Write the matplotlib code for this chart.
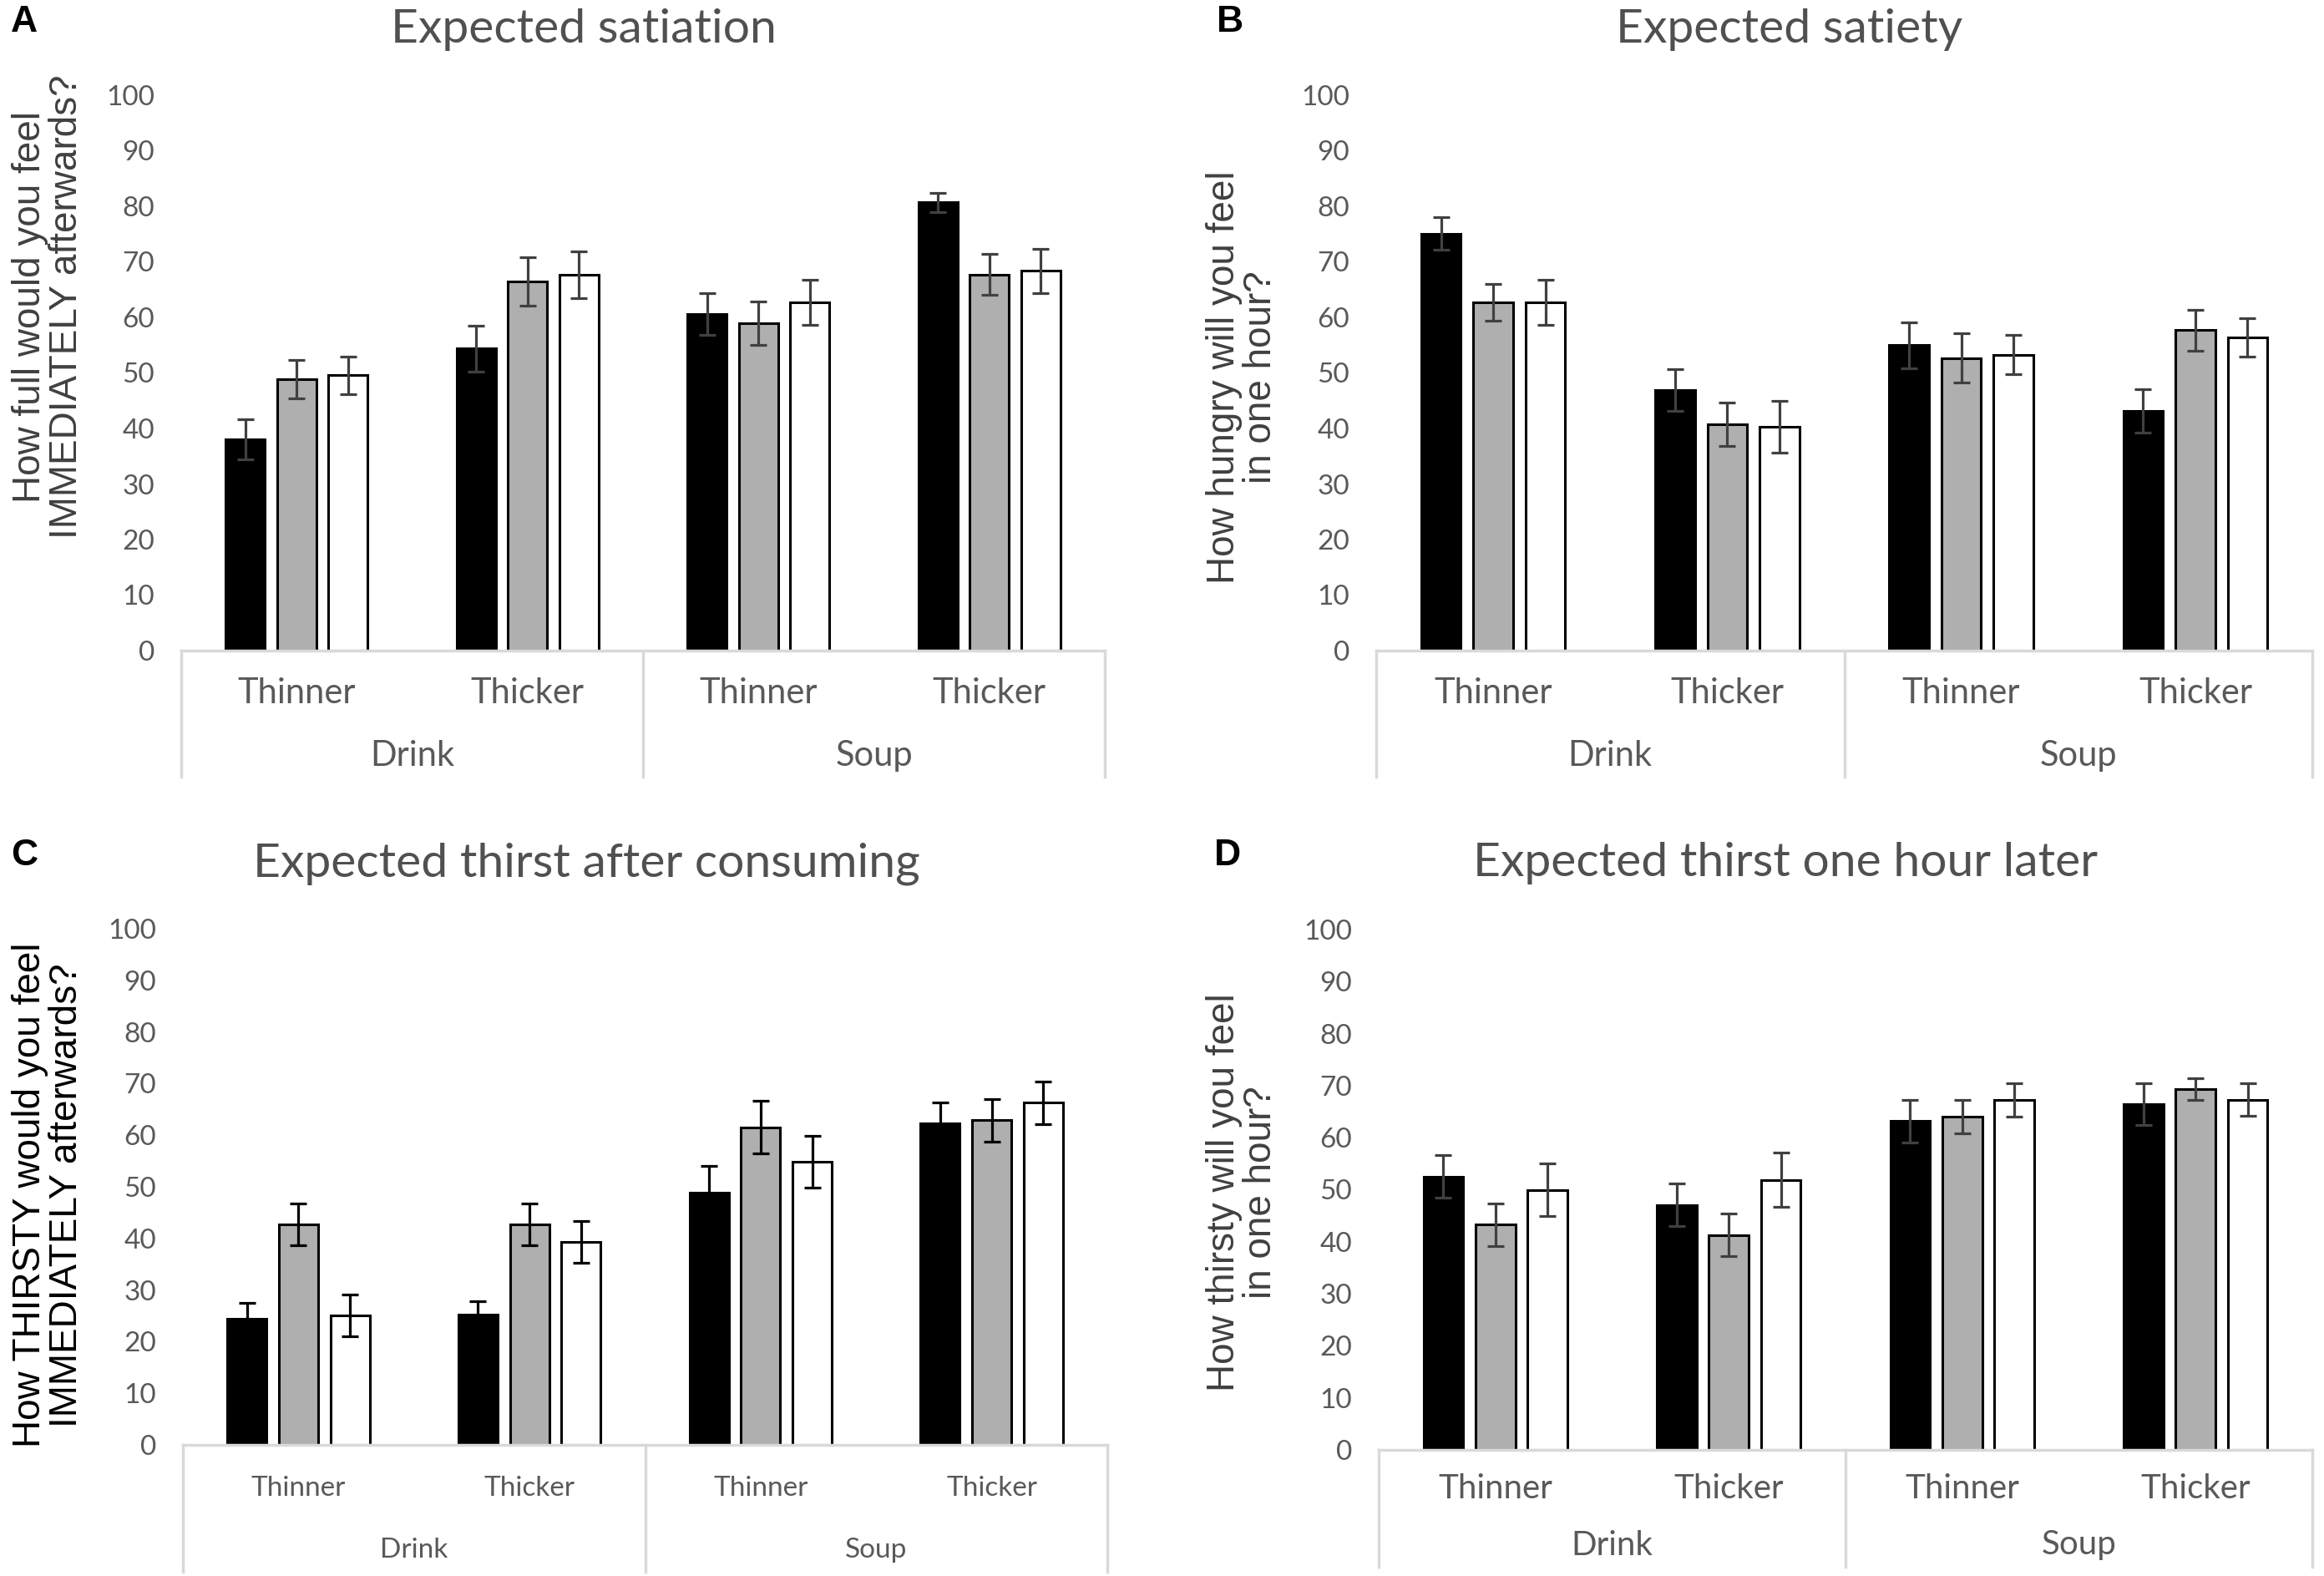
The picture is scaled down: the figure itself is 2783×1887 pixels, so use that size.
import matplotlib
matplotlib.use("Agg")
import matplotlib.pyplot as plt
import matplotlib.transforms as mtransforms
import numpy as np

# ---------------- data ----------------
categories = ["Thinner", "Thicker", "Thinner", "Thicker"]
groups = ["Drink", "Soup"]

satiation_black = [38.1, 54.4, 60.6, 80.7]
satiation_gray = [48.9, 66.5, 58.9, 67.7]
satiation_white = [49.6, 67.7, 62.7, 68.4]
satiation_black_err = [3.6, 4.1, 3.7, 1.7]
satiation_gray_err = [3.5, 4.4, 3.9, 3.7]
satiation_white_err = [3.4, 4.2, 4.1, 4.0]

satiety_black = [75.1, 46.9, 55.0, 43.2]
satiety_gray = [62.7, 40.8, 52.7, 57.7]
satiety_white = [62.7, 40.3, 53.3, 56.4]
satiety_black_err = [2.9, 3.8, 4.1, 3.9]
satiety_gray_err = [3.3, 3.9, 4.5, 3.7]
satiety_white_err = [4.0, 4.6, 3.5, 3.5]

thirst_now_black = [24.5, 25.2, 48.8, 62.3]
thirst_now_gray = [42.7, 42.7, 61.5, 62.9]
thirst_now_white = [25.1, 39.3, 54.8, 66.3]
thirst_now_black_err = [3.0, 2.6, 5.2, 4.1]
thirst_now_gray_err = [4.0, 4.1, 5.1, 4.1]
thirst_now_white_err = [4.1, 4.1, 5.0, 4.1]

thirst_later_black = [52.5, 47.1, 63.2, 66.5]
thirst_later_gray = [43.3, 41.3, 64.1, 69.4]
thirst_later_white = [50.0, 51.9, 67.3, 67.3]
thirst_later_black_err = [4.1, 4.1, 4.1, 4.0]
thirst_later_gray_err = [4.1, 4.1, 3.2, 2.1]
thirst_later_white_err = [5.0, 5.2, 3.2, 3.1]

titles = ["Expected satiation", "Expected satiety",
          "Expected thirst after consuming", "Expected thirst one hour later"]
ylabels = ["How full would you feel\nIMMEDIATELY afterwards?",
           "How hungry will you feel\nin one hour?",
           "How THIRSTY would you feel\nIMMEDIATELY afterwards?",
           "How thirsty will you feel\nin one hour?"]
panel_letters = ["A", "B", "C", "D"]
yticks = [0, 10, 20, 30, 40, 50, 60, 70, 80, 90, 100]

# ---------------- layout (pixels) ----------------
W, H = 2783, 1887
DPI = 100
fig = plt.figure(figsize=(W / DPI, H / DPI), dpi=DPI)

TXT = "#595959"
BOXC = "#d9d9d9"
GRAY = "#afafaf"

panels = [
    dict(rect=(217, 779, 1323, 114), black=satiation_black, gray=satiation_gray, white=satiation_white,
         be=satiation_black_err, ge=satiation_gray_err, we=satiation_white_err,
         cat_y=830, grp_y=905, box_bot=930, cat_fs=30, ecol="#404040",
         title_xy=(699, 51), ylab_xy=(58, 367), ylab_col="#404040", letter_xy=(13, 6)),
    dict(rect=(1648, 779, 2769, 114), black=satiety_black, gray=satiety_gray, white=satiety_white,
         be=satiety_black_err, ge=satiety_gray_err, we=satiety_white_err,
         cat_y=830, grp_y=905, box_bot=930, cat_fs=30, ecol="#404040",
         title_xy=(2143, 51), ylab_xy=(1488, 452), ylab_col="#404040", letter_xy=(1457, 6)),
    dict(rect=(219, 1730, 1326, 1112), black=thirst_now_black, gray=thirst_now_gray, white=thirst_now_white,
         be=thirst_now_black_err, ge=thirst_now_gray_err, we=thirst_now_white_err,
         cat_y=1782, grp_y=1856, box_bot=1882, cat_fs=24, ecol="#000000",
         title_xy=(702, 1049), ylab_xy=(58, 1431), ylab_col="#000000", letter_xy=(13, 1004)),
    dict(rect=(1651, 1736, 2769, 1113), black=thirst_later_black, gray=thirst_later_gray, white=thirst_later_white,
         be=thirst_later_black_err, ge=thirst_later_gray_err, we=thirst_later_white_err,
         cat_y=1782, grp_y=1850, box_bot=1876, cat_fs=29, ecol="#404040",
         title_xy=(2138, 1049), ylab_xy=(1488, 1428), ylab_col="#404040", letter_xy=(1454, 1004)),
]

x = np.arange(len(categories))
offset = 0.223
bw = 0.17

for i, p in enumerate(panels):
    left, y0, right, y100 = p["rect"]
    ax = fig.add_axes([left / W, (H - y0) / H, (right - left) / W, (y0 - y100) / H])
    hpx = y0 - y100
    series = [(p["black"], p["be"], "#000000", -offset),
              (p["gray"], p["ge"], GRAY, 0.0),
              (p["white"], p["we"], "#ffffff", offset)]
    for vals, errs, col, off in series:
        ax.bar(x + off, vals, width=bw, color=col, edgecolor="#000000", linewidth=2.2, zorder=2)
        ax.errorbar(x + off, vals, yerr=errs, fmt="none", ecolor=p["ecol"], elinewidth=2.3,
                    capsize=7, capthick=2.3, zorder=3)
    ax.set_xlim(-0.5, 3.5)
    ax.set_ylim(0, 100)
    ax.set_yticks(yticks)
    ax.set_yticklabels([str(t) for t in yticks], fontsize=24, color=TXT, family="Lato")
    ax.tick_params(axis="y", length=0, pad=23)
    ax.set_xticks([])
    for s in ["top", "right", "left"]:
        ax.spines[s].set_visible(False)
    ax.spines["bottom"].set_color(BOXC)
    ax.spines["bottom"].set_linewidth(2.5)
    ax.patch.set_alpha(0)

    trans = mtransforms.blended_transform_factory(ax.transData, ax.transAxes)
    bot = -(p["box_bot"] - y0) / hpx
    for xb in [-0.5, 1.5, 3.5]:
        ax.plot([xb, xb], [0, bot], transform=trans, color=BOXC, lw=2.5, clip_on=False)
    cy = -(p["cat_y"] - y0) / hpx
    for xi, lab in zip(x, categories):
        ax.text(xi, cy, lab, transform=trans, ha="center", va="center",
                fontsize=p["cat_fs"], color=TXT, family="Lato")
    gy = -(p["grp_y"] - y0) / hpx
    for gx, lab in zip([0.5, 2.5], groups):
        ax.text(gx, gy, lab, transform=trans, ha="center", va="center",
                fontsize=p["cat_fs"], color=TXT, family="Lato")

    tx, ty = p["title_xy"]
    fig.text(tx / W, 1 - ty / H, titles[i], ha="center", va="baseline",
             fontsize=41, color="#505050", family="Lato")
    lx, ly = p["ylab_xy"]
    fig.text(lx / W, 1 - ly / H, ylabels[i], rotation=90, ha="center", va="center",
             multialignment="center", fontsize=33, color=p["ylab_col"],
             family="Liberation Sans", linespacing=1.0)
    px_, py_ = p["letter_xy"]
    fig.text(px_ / W, 1 - py_ / H, panel_letters[i], ha="left", va="top",
             fontsize=32, fontweight="bold", color="#000000", family="Liberation Sans")

fig.savefig("out.png", dpi=DPI)
